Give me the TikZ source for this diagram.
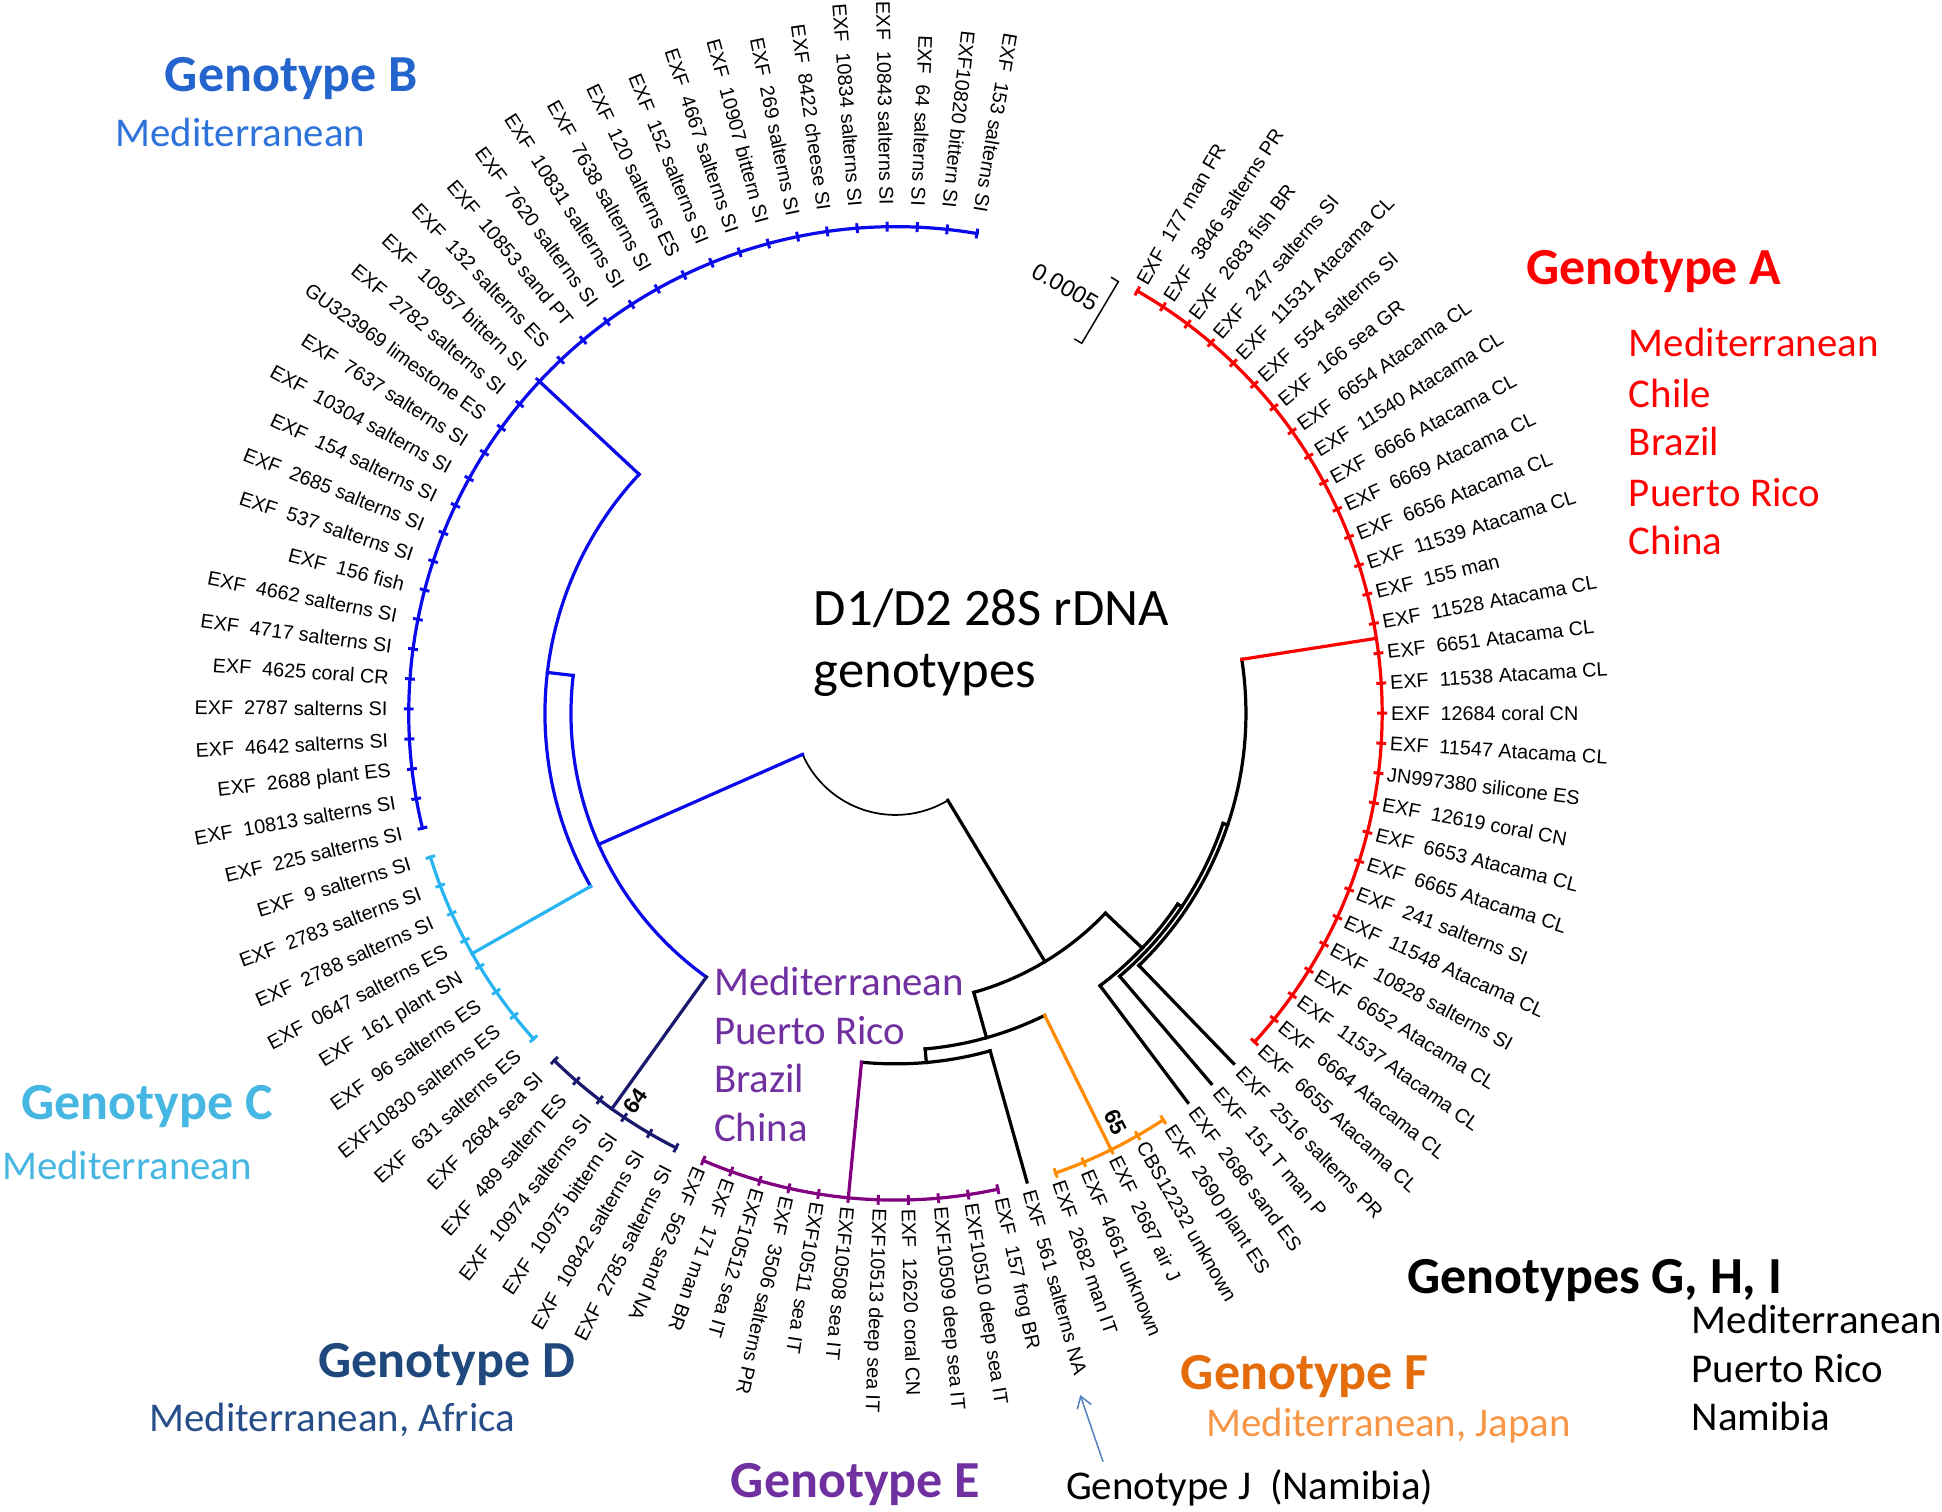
\documentclass[tikz,border=0pt]{standalone}
\usepackage{fontspec}
\setmainfont{Liberation Sans}
\newfontfamily\calibri{Carlito}
\usepackage{tikz}
\usetikzlibrary{arrows.meta}
\definecolor{Tree_A}{RGB}{250, 0, 0}
\definecolor{Tree_B}{RGB}{10, 10, 235}
\definecolor{Tree_C}{RGB}{40, 180, 240}
\definecolor{Tree_D}{RGB}{25, 25, 110}
\definecolor{Tree_E}{RGB}{128, 0, 128}
\definecolor{Tree_F}{RGB}{255, 140, 0}
\definecolor{Geno_A}{RGB}{255, 0, 0}
\definecolor{Geno_B}{RGB}{35, 100, 205}
\definecolor{Med_B}{RGB}{45, 115, 218}
\definecolor{Geno_C}{RGB}{70, 182, 226}
\definecolor{Geno_D}{RGB}{31, 73, 125}
\definecolor{Med_D}{RGB}{40, 78, 138}
\definecolor{Geno_E}{RGB}{112, 48, 160}
\definecolor{Geno_F}{RGB}{228, 108, 10}
\definecolor{Med_F}{RGB}{247, 150, 70}
\definecolor{Arrow_J}{RGB}{79, 129, 189}

\begin{document}
\begin{tikzpicture}[x=1pt, y=1pt,
    tree/.style={line width=2.6pt, line cap=rect},
    tick/.style={line width=2.4pt},
    tiplab/.style={font=\fontsize{16}{18}\selectfont, inner sep=2pt},
    bigname/.style={anchor=base west, inner sep=0pt, font=\calibri\bfseries\fontsize{42}{50}\selectfont},
    place/.style={anchor=base west, inner sep=0pt, font=\calibri\fontsize{33}{40}\selectfont},
    boot/.style={font=\bfseries\fontsize{18}{20}\selectfont, inner sep=0pt}]
    \useasboundingbox (0,0) rectangle (1568,1220.8);

    \begin{scope}[shift={(723,644.8)}]
    %% Root
    \draw[line width=1.4pt] (203.82:82) arc[start angle=203.82, end angle=301.06, radius=82];

    %% Genotypes B, C, D
    \draw[tree, Tree_B] (203.82:82) -- (203.82:262);
    \draw[tree, Tree_B] (173.29:262) arc[start angle=173.29, end angle=234.35, radius=262];
    \draw[tree, Tree_B] (173.29:262) -- (173.29:283);
    \draw[tree, Tree_B] (137:283) arc[start angle=137, end angle=209.57, radius=283];
    \draw[tree, Tree_B] (137:283) -- (137:393);
    \draw[tree, Tree_B] (80.36:393) arc[start angle=80.36, end angle=193.64, radius=393];
    \draw[tree, Tree_C] (209.57:283) -- (209.57:393);
    \draw[tree, Tree_C] (197.18:393) arc[start angle=197.18, end angle=221.96, radius=393];
    \draw[tree, Tree_D] (234.35:262) -- (234.35:393);
    \draw[tree, Tree_D] (225.5:393) arc[start angle=225.5, end angle=243.2, radius=393];
    \node[boot, rotate=54.35] (bs64) at (236.2:377) {64};

    %% Genotypes E, F, J
    \draw[tree] (301.06:82) -- (301.06:234);
    \draw[tree] (-74.32:234) arc[start angle=-74.32, end angle=-43.57, radius=234];
    \draw[tree] (-74.32:234) -- (-74.32:272);
    \draw[tree] (-84.94:272) arc[start angle=-84.94, end angle=-63.7, radius=272];
    \draw[tree] (-84.94:272) -- (-84.94:283);
    \draw[tree] (-95.56:283) arc[start angle=-95.56, end angle=-74.32, radius=283];
    \draw[tree] (-74.32:283) -- (-74.32:393);
    \draw[tree, Tree_E] (-95.56:283) -- (-95.56:393);
    \draw[tree, Tree_E] (-113.26:393) arc[start angle=-113.26, end angle=-77.86, radius=393];
    \draw[tree, Tree_F] (-63.7:272) -- (-63.7:393);
    \draw[tree, Tree_F] (-70.78:393) arc[start angle=-70.78, end angle=-56.62, radius=393];
    \node[boot, rotate=-63.7] (bs65) at (-61.7:375) {65};

    %% Genotypes G, H, I and A
    \draw[tree] (-43.57:234) -- (-43.57:275);
    \draw[tree] (-53.08:275) arc[start angle=-53.08, end angle=-34.05, radius=275];
    \draw[tree] (-53.08:275) -- (-53.08:393);
    \draw[tree] (-34.05:275) -- (-34.05:279);
    \draw[tree] (-49.54:279) arc[start angle=-49.54, end angle=-18.565, radius=279];
    \draw[tree] (-49.54:279) -- (-49.54:393);
    \draw[tree] (-18.565:279) -- (-18.565:283);
    \draw[tree] (-46:283) arc[start angle=-46, end angle=8.87, radius=283];
    \draw[tree] (-46:283) -- (-46:393);
    \draw[tree, Tree_A] (8.87:283) -- (8.87:393);
    \draw[tree, Tree_A] (-42.46:393) arc[start angle=-42.46, end angle=60.2, radius=393];

    %% Tip marks
    \foreach \i in {1,...,30} {\draw[tick, Tree_A] ({60.2-3.54*(\i-1)}:389) -- ({60.2-3.54*(\i-1)}:397);}
    \foreach \i in {34,...,38} {\draw[tick, Tree_F] ({60.2-3.54*(\i-1)}:389) -- ({60.2-3.54*(\i-1)}:397);}
    \foreach \i in {40,...,50} {\draw[tick, Tree_E] ({60.2-3.54*(\i-1)}:389) -- ({60.2-3.54*(\i-1)}:397);}
    \foreach \i in {51,...,56} {\draw[tick, Tree_D] ({60.2-3.54*(\i-1)}:389) -- ({60.2-3.54*(\i-1)}:397);}
    \foreach \i in {57,...,64} {\draw[tick, Tree_C] ({60.2-3.54*(\i-1)}:389) -- ({60.2-3.54*(\i-1)}:397);}
    \foreach \i in {65,...,97} {\draw[tick, Tree_B] ({60.2-3.54*(\i-1)}:389) -- ({60.2-3.54*(\i-1)}:397);}

    %% Strain labels
    \foreach \lab [count=\i] in {EXF~ 177 man FR, EXF~ 3846 salterns PR, EXF~ 2683 fish BR,
        EXF~ 247 salterns SI, EXF~ 11531 Atacama CL, EXF~ 554 salterns SI, EXF~ 166 sea GR,
        EXF~ 6654 Atacama CL, EXF~ 11540 Atacama CL, EXF~ 6666 Atacama CL, EXF~ 6669 Atacama CL,
        EXF~ 6656 Atacama CL, EXF~ 11539 Atacama CL, EXF~ 155 man, EXF~ 11528 Atacama CL,
        EXF~ 6651 Atacama CL, EXF~ 11538 Atacama CL, EXF~ 12684 coral CN, EXF~ 11547 Atacama CL,
        JN997380 silicone ES, EXF~ 12619 coral CN, EXF~ 6653 Atacama CL, EXF~ 6665 Atacama CL,
        EXF~ 241 salterns SI, EXF~ 11548 Atacama CL, EXF~ 10828 salterns SI, EXF~ 6652 Atacama CL,
        EXF~ 11537 Atacama CL, EXF~ 6664 Atacama CL, EXF~ 6655 Atacama CL,
        EXF~ 2516 salterns PR, EXF~ 151 T man P, EXF~ 2686 sand ES,
        EXF~ 2690 plant ES, CBS12232 unknown, EXF~ 2687 air J, EXF~ 4661 unknown, EXF~ 2682 man IT,
        EXF~ 561 salterns NA,
        EXF~ 157 frog BR, EXF10510 deep sea IT, EXF10509 deep sea IT, EXF~ 12620 coral CN,
        EXF10513 deep sea IT, EXF10508 sea IT, EXF10511 sea IT, EXF~ 3506 salterns PR,
        EXF10512 sea IT, EXF~ 171 man BR, EXF~ 562 sand NA,
        EXF~ 2785 salterns SI, EXF~ 10842 salterns SI, EXF~ 10975 bittern SI, EXF~ 10974 salterns SI,
        EXF~ 489 saltern ES, EXF~ 2684 sea SI,
        EXF~ 631 salterns ES, EXF10830 salterns ES, EXF~ 96 salterns ES, EXF~ 161 plant SN,
        EXF~ 0647 salterns ES, EXF~ 2788 salterns SI, EXF~ 2783 salterns SI, EXF~ 9 salterns SI,
        EXF~ 225 salterns SI, EXF~ 10813 salterns SI, EXF~ 2688 plant ES, EXF~ 4642 salterns SI,
        EXF~ 2787 salterns SI, EXF~ 4625 coral CR, EXF~ 4717 salterns SI, EXF~ 4662 salterns SI,
        EXF~ 156 fish, EXF~ 537 salterns SI, EXF~ 2685 salterns SI, EXF~ 154 salterns SI,
        EXF~ 10304 salterns SI, EXF~ 7637 salterns SI, GU323969 limestone ES, EXF~ 2782 salterns SI,
        EXF~ 10957 bittern SI, EXF~ 132 salterns ES, EXF~ 10853 sand PT, EXF~ 7620 salterns SI,
        EXF~ 10831 salterns SI, EXF~ 7638 salterns SI, EXF~ 120 salterns ES, EXF~ 152 salterns SI,
        EXF~ 4667 salterns SI, EXF~ 10907 bittern SI, EXF~ 269 salterns SI, EXF~ 8422 cheese SI,
        EXF~ 10834 salterns SI, EXF~ 10843 salterns SI, EXF~ 64 salterns SI, EXF10820 bittern SI,
        EXF~ 153 salterns SI}{
        \pgfmathsetmacro{\ang}{60.2-3.54*(\i-1)}
        \ifnum\i<51
            \node[tiplab, anchor=west, rotate=\ang] (tip\i) at (\ang:398) {\lab};
        \else
            \pgfmathsetmacro{\flip}{\ang+180}
            \node[tiplab, anchor=east, rotate=\flip] (tip\i) at (\ang:408) {\lab};
        \fi
    }
    \end{scope}

    %% Scale bar
    \draw[line width=1.2pt] (867.4,947.2) -- (873.4,943.6) -- (903,993.4) -- (897,997);
    \node[rotate=-30, font=\fontsize{19}{21}\selectfont] (scale) at (860,989) {0.0005};

    %% Title
    \node[anchor=base west, inner sep=0pt, font=\calibri\fontsize{42.5}{50}\selectfont] (title1) at (657,715.8) {D1/D2 28S rDNA};
    \node[anchor=base west, inner sep=0pt, font=\calibri\fontsize{42.5}{50}\selectfont] (title2) at (657,665.3) {genotypes};

    %% Genotype names
    \node[bigname, Geno_B] (genoB) at (133,1146.8) {Genotype B};
    \node[place, Med_B] (medB) at (93,1102.8) {Mediterranean};

    \node[bigname, Geno_A] (genoA) at (1232,990.8) {Genotype A};
    \node[place, Geno_A] (medA1) at (1315,932.8) {Mediterranean};
    \node[place, Geno_A] (medA2) at (1315,891.8) {Chile};
    \node[place, Geno_A] (medA3) at (1315,852.8) {Brazil};
    \node[place, Geno_A] (medA4) at (1315,811.8) {Puerto Rico};
    \node[place, Geno_A] (medA5) at (1315,772.8) {China};

    \node[bigname, Geno_C] (genoC) at (17,316.8) {Genotype C};
    \node[place, Geno_C] (medC) at (1.5,268.8) {Mediterranean};

    \node[bigname, Geno_D] (genoD) at (256.8,108.8) {Genotype D};
    \node[place, Med_D] (medD) at (120.5,64.8) {Mediterranean, Africa};

    \node[bigname, Geno_E] (genoE) at (590,11.8) {Genotype E};
    \node[place, Geno_E] (medE1) at (576.4,417.3) {Mediterranean};
    \node[place, Geno_E] (medE2) at (576.4,377.8) {Puerto Rico};
    \node[place, Geno_E] (medE3) at (576.4,338.3) {Brazil};
    \node[place, Geno_E] (medE4) at (576.4,298.8) {China};

    \node[bigname, Geno_F] (genoF) at (953.3,98.8) {Genotype F};
    \node[place, Med_F] (medF) at (974,60.8) {Mediterranean, Japan};

    \node[bigname] (genoGHI) at (1136,176.8) {Genotypes G, H, I};
    \node[place] (medG1) at (1365.8,143.8) {Mediterranean};
    \node[place] (medG2) at (1365.8,104.8) {Puerto Rico};
    \node[place] (medG3) at (1365.8,65.8) {Namibia};

    \node[place] (genoJ) at (860.6,9.8) {Genotype J\ \ (Namibia)};
    \coordinate (Jtail) at (890.6,40.6);
    \coordinate (Jhead) at (872.2,94.4);
    \draw[Arrow_J, line width=1.2pt, -{Straight Barb[length=9pt, width=12pt]}] (Jtail) -- (Jhead);
\end{tikzpicture}
\end{document}
